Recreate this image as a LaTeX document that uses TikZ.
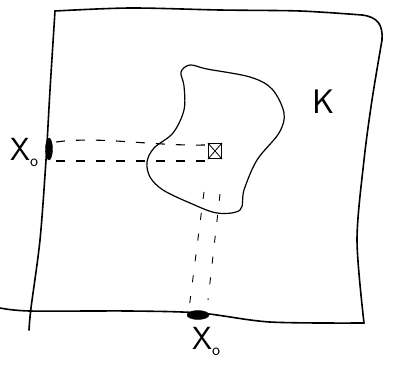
\documentclass[tikz,border=0pt]{standalone}
\usepackage{tikz}
\usetikzlibrary{shapes.geometric}
\begin{document}
\begin{tikzpicture}[x=1pt,y=-1pt,
  edge/.style={line width=1.6pt,line cap=round,line join=round},
  thinline/.style={line width=1.2pt,line cap=round},
  dashh/.style={line width=1.1pt,dash pattern=on 9pt off 11pt},
  dashv/.style={line width=0.9pt,dash pattern=on 7pt off 14pt},
  blotch/.style={fill=black,draw=black},
  lab/.style={font=\sffamily\fontsize{32}{32}\selectfont,inner sep=0pt}]
\useasboundingbox (0,0) rectangle (393,370);
% frame
\draw[edge] plot[smooth,tension=0.5] coordinates {(29,330) (31,308) (40,240) (46,160) (50,90) (55,11)};
\draw[edge] plot[smooth,tension=0.5] coordinates {(55,11) (130,8) (220,10) (300,11) (362,15)};
\draw[edge] (362,15) .. controls (378,17) and (383,25) .. (382,40);
\draw[edge] plot[smooth,tension=0.5] coordinates {(382,40) (372,100) (364,160) (357,240) (364,323)};
\draw[edge] plot[smooth,tension=0.5] coordinates {(0,308) (30,311) (130,311) (200,313) (270,322) (364,323)};
% blob
\draw[thinline] plot[smooth cycle,tension=0.55] coordinates {(181,72) (184,86) (184,110) (173,133) (154,148) (147,162) (150,177) (163,190) (190,203) (217,213) (240,210) (244,190) (257,160) (279,133) (284,113) (272,89) (250,77) (207,69) (190,65)};
% marks
\node[blotch,ellipse,minimum width=7pt,minimum height=22pt,inner sep=0pt] (m1) at (49,149) {};
\node[blotch,ellipse,minimum width=22pt,minimum height=9pt,inner sep=0pt] (m2) at (198,315) {};
% square point
\node[draw,line width=1.1pt,minimum width=13pt,minimum height=15pt,inner sep=0pt] (p) at (215,151) {};
\draw[line width=0.8pt] (p.north west) -- (p.south east) (p.north east) -- (p.south west);
% dashed projections
\coordinate (a1) at (56,142);
\coordinate (a2) at (56,161);
\coordinate (b1) at (205,145);
\coordinate (b2) at (205,161);
\draw[dashh] (a1) .. controls (100,136) and (150,146) .. (b1);
\draw[dashh] (a2) -- (b2);
\coordinate (c1) at (204,192);
\coordinate (c2) at (189,309);
\coordinate (d1) at (220,194);
\coordinate (d2) at (208,300);
\draw[dashv] (c1) -- (c2);
\draw[dashv] (d1) -- (d2);
% labels
\node[lab] (x1) at (24,152) {X\raisebox{-6pt}{\fontsize{17}{17}\selectfont o}};
\node[lab] (x2) at (206,341) {X\raisebox{-6pt}{\fontsize{17}{17}\selectfont o}};
\node[lab,font=\sffamily\fontsize{34}{34}\selectfont] (k) at (324,102) {K};
\end{tikzpicture}
\end{document}
